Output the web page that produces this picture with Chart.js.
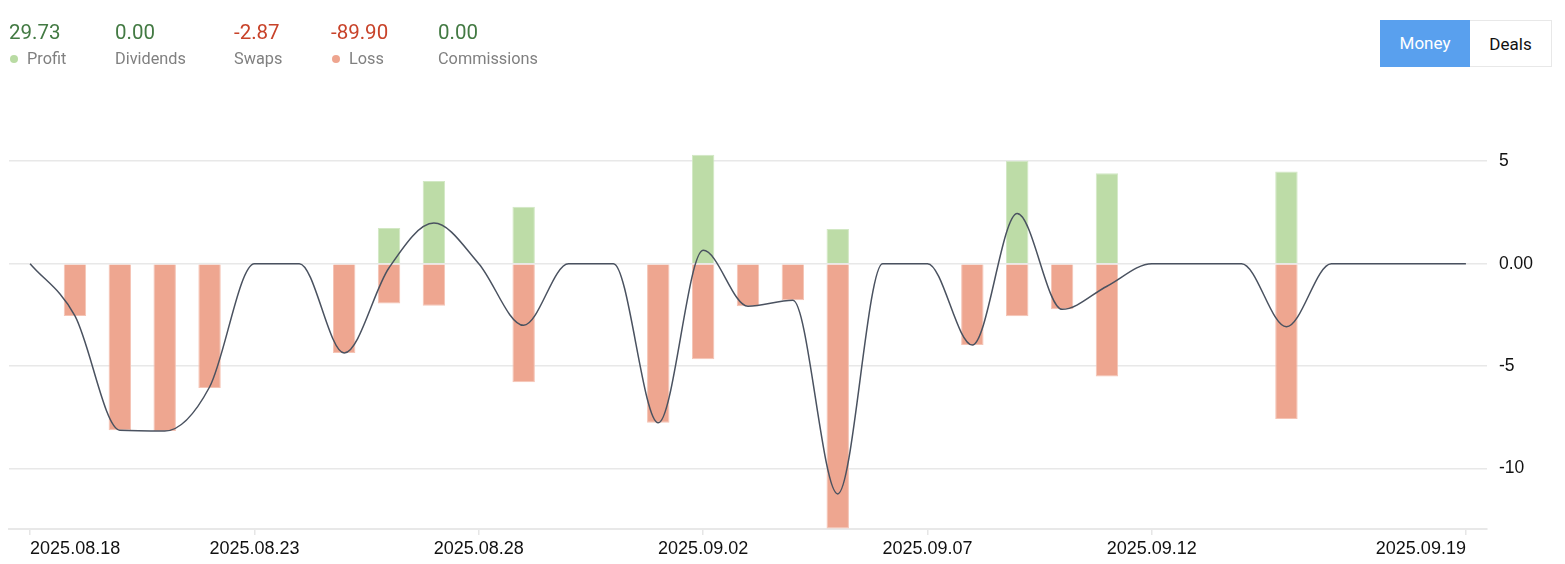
<!DOCTYPE html>
<html>
<head>
<meta charset="utf-8">
<script src="https://cdn.jsdelivr.net/npm/chart.js@4/dist/chart.umd.min.js"></script>
<style>
  html, body { margin: 0; padding: 0; background: #fff; }
  #wrap { position: relative; width: 1565px; height: 564px; overflow: hidden; }
  #chart { position: absolute; left: 0; top: 0; }
  .stat { position: absolute; top: 0; font-family: Roboto, "Noto Sans", sans-serif; }
  .num { position: absolute; top: 20px; left: 0; font-size: 20.5px; line-height: 24px; white-space: nowrap; }
  .lab { position: absolute; top: 50px; left: 0; font-size: 16.3px; line-height: 18px; color: #808080; white-space: nowrap; }
  .dot { display: inline-block; width: 8px; height: 8px; border-radius: 50%; margin: 0 9px 1px 1px; vertical-align: middle; }
  .pos { color: #437a43; }
  .neg { color: #c8432a; }
  .btns { position: absolute; top: 20px; left: 1380px; height: 47px; font-family: Roboto, "Noto Sans", sans-serif; font-size: 17px; }
  .btn { position: absolute; top: 0; height: 47px; line-height: 47px; text-align: center; box-sizing: border-box; }
  .b1 { left: 0; width: 90px; background: #59a0ee; color: #fff; }
  .b2 { left: 90px; width: 82px; background: #fff; color: #111; border: 1px solid #e8e8e8; border-left: none; }
</style>
</head>
<body>
<div id="wrap">
  <canvas id="chart" width="1565" height="564"></canvas>
  <div class="stat" style="left:9px"><div class="num pos">29.73</div><div class="lab"><span class="dot" style="background:#b9dba3"></span>Profit</div></div>
  <div class="stat" style="left:115px"><div class="num pos">0.00</div><div class="lab">Dividends</div></div>
  <div class="stat" style="left:234px"><div class="num neg">-2.87</div><div class="lab">Swaps</div></div>
  <div class="stat" style="left:331px"><div class="num neg">-89.90</div><div class="lab"><span class="dot" style="background:#eea58f"></span>Loss</div></div>
  <div class="stat" style="left:438px"><div class="num pos">0.00</div><div class="lab">Commissions</div></div>
  <div class="btns"><div class="btn b1">Money</div><div class="btn b2">Deals</div></div>
</div>
<script>
// ---- data ----
const dates = [
  '2025.08.18','2025.08.19','2025.08.20','2025.08.21','2025.08.22','2025.08.23','2025.08.24',
  '2025.08.25','2025.08.26','2025.08.27','2025.08.28','2025.08.29','2025.08.30','2025.08.31',
  '2025.09.01','2025.09.02','2025.09.03','2025.09.04','2025.09.05','2025.09.06','2025.09.07',
  '2025.09.08','2025.09.09','2025.09.10','2025.09.11','2025.09.12','2025.09.13','2025.09.14',
  '2025.09.15','2025.09.16','2025.09.17','2025.09.18','2025.09.19'
];
const profit = [
  null, null, null, null, 0.05, null, null,
  null, 1.74, 4.03, null, 2.78, null, null,
  null, 5.32, null, null, 1.69, null, null,
  null, 5.02, null, 4.41, null, null, null,
  4.50, null, null, null, null
];
const loss = [
  null, -2.55, -8.13, -8.17, -6.07, null, null,
  -4.36, -1.94, -2.05, null, -5.79, null, null,
  -7.77, -4.67, -2.08, -1.79, -12.93, null, null,
  -3.97, -2.57, -2.23, -5.51, null, null, null,
  -7.58, null, null, null, null
];
const net = [
  0, -2.55, -8.13, -8.17, -6.02, 0, 0,
  -4.36, -0.20, 1.98, 0, -3.01, 0, 0,
  -7.77, 0.65, -2.08, -1.79, -11.24, 0, 0,
  -3.97, 2.45, -2.23, -1.10, 0, 0, 0,
  -3.08, 0, 0, 0, 0
];
const xTickLabels = ['2025.08.18','2025.08.23','2025.08.28','2025.09.02','2025.09.07','2025.09.12','2025.09.19'];
const yTickValues = [-10, -5, 0, 5];

// ---- build ----
const toPoints = arr => arr.map((v, i) => ({ x: i, y: v })).filter(p => p.y !== null);

new Chart(document.getElementById('chart'), {
  data: {
    datasets: [
      {
        type: 'line', label: 'Net', data: toPoints(net), order: 0,
        borderColor: '#4a5260', borderWidth: 1.5, pointRadius: 0,
        cubicInterpolationMode: 'monotone', fill: false
      },
      {
        type: 'bar', label: 'Profit', data: toPoints(profit), order: 1, grouped: false,
        backgroundColor: '#bddca7', borderColor: '#d2e8c4', borderWidth: 1,
        barPercentage: 0.5, categoryPercentage: 1
      },
      {
        type: 'bar', label: 'Loss', data: toPoints(loss), order: 1, grouped: false,
        backgroundColor: '#eea690', borderColor: '#f5c4b5', borderWidth: 1,
        barPercentage: 0.5, categoryPercentage: 1
      }
    ]
  },
  options: {
    responsive: false,
    animation: false,
    layout: { padding: { left: 9, top: 151, right: 0, bottom: 0 } },
    plugins: { legend: { display: false }, tooltip: { enabled: false } },
    scales: {
      x: {
        type: 'linear', min: -0.47, max: 32.47, offset: false,
        afterBuildTicks: s => { s.ticks = xTickLabels.map(l => ({ value: dates.indexOf(l) })); },
        afterFit: s => { s.height = 35; },
        grid: { offset: false, drawOnChartArea: false, drawTicks: true, tickLength: 6, color: '#e6e6e6', lineWidth: 1.5 },
        border: { display: true, color: '#e8e8e8', width: 2 },
        ticks: {
          align: 'inner', maxRotation: 0, autoSkip: false, padding: 3,
          color: '#111', font: { family: '"Liberation Sans", Arial, sans-serif', size: 18 },
          callback: v => dates[v]
        }
      },
      y: {
        position: 'right', min: -12.95, max: 5.5,
        afterBuildTicks: s => { s.ticks = yTickValues.map(v => ({ value: v })); },
        afterFit: s => { s.width = 78; },
        grid: { drawTicks: false, color: '#e8e8e8', lineWidth: 1.5 },
        border: { display: false },
        ticks: {
          padding: 12, color: '#111',
          font: { family: '"Liberation Sans", Arial, sans-serif', size: 17.5 },
          callback: v => (v === 0 ? '0.00' : String(v))
        }
      }
    }
  }
});
</script>
</body>
</html>
